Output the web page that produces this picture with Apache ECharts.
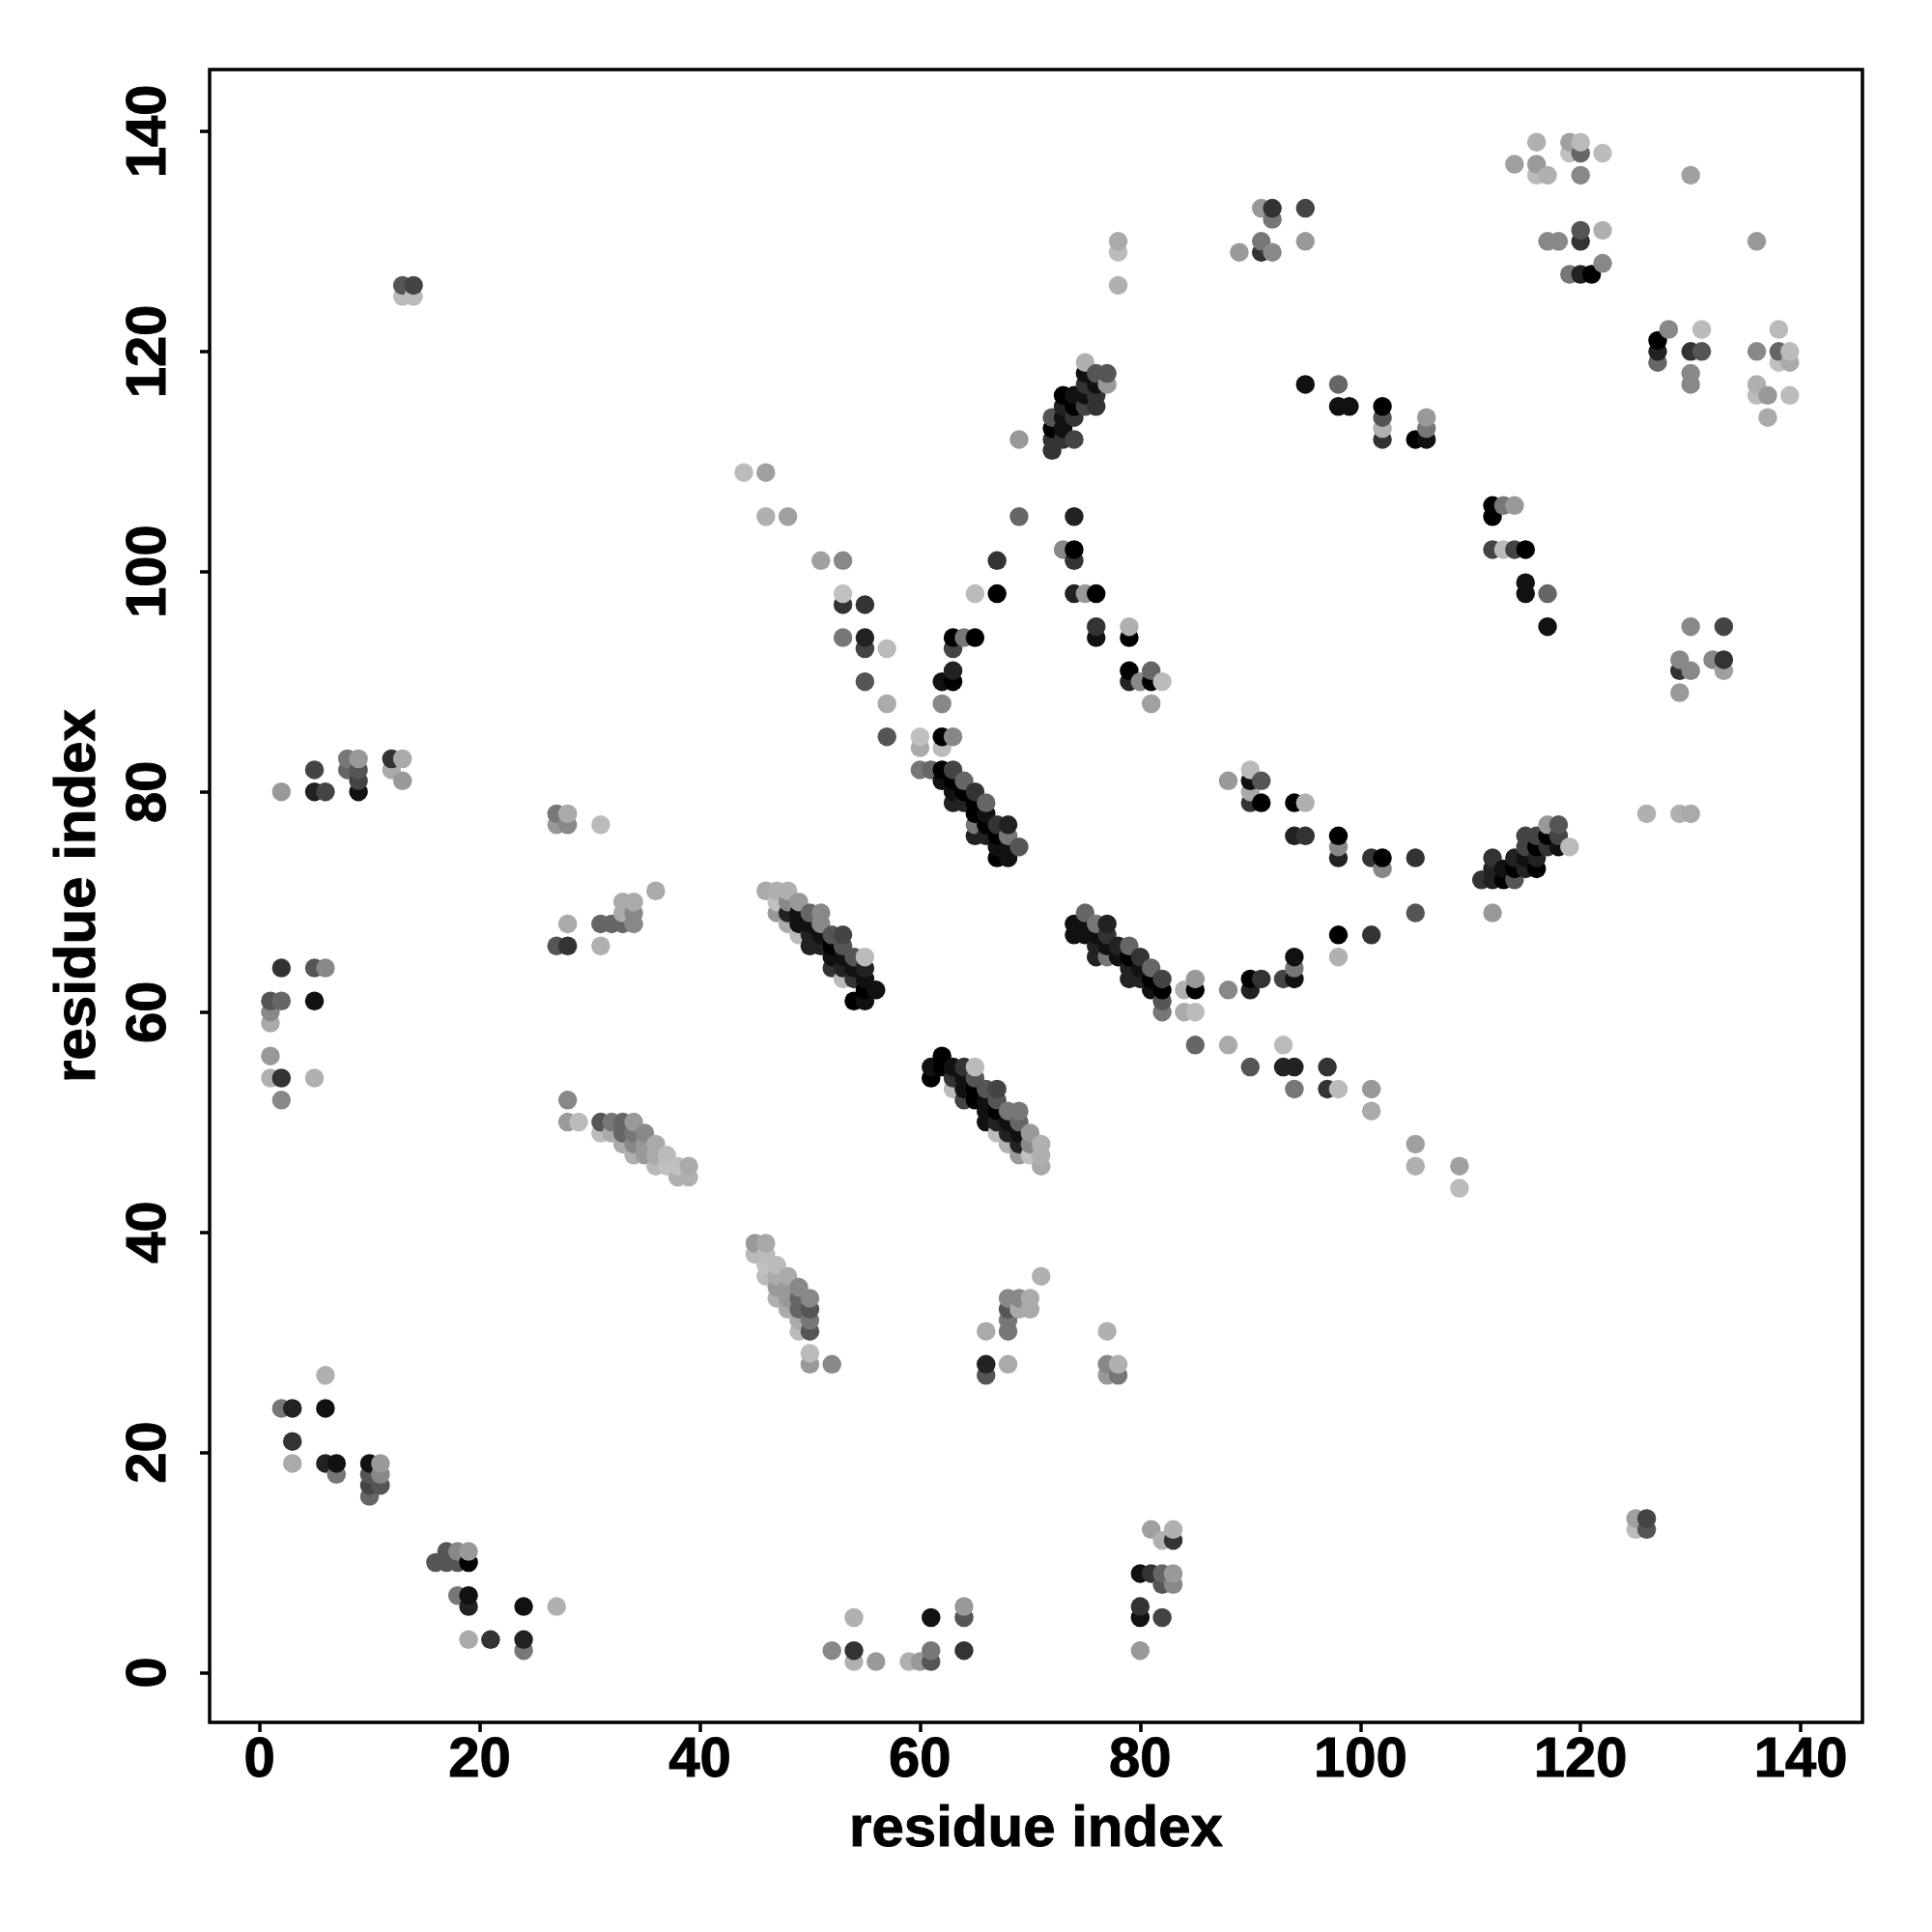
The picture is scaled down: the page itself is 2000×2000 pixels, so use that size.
<!DOCTYPE html>
<html>
<head>
<meta charset="utf-8">
<style>html,body{margin:0;padding:0;background:#fff}#c{width:2000px;height:2000px}</style>
<script src="https://cdn.jsdelivr.net/npm/echarts@6/dist/echarts.min.js"></script>
</head>
<body>
<div id="c"></div>
<script>
// [residue i, residue j, grey level]
const tickValues = [0, 20, 40, 60, 80, 100, 120, 140];
const axisTitle = "residue index";

const leftTop = [[13,126,0x55],[14,126,0x44],[13,125,0xbb],[14,125,0xbb]];
const leftUpper = [[2,80,0x99],[5,80,0x22],[6,80,0x44],[5,82,0x44],[8,83,0x77],[9,83,0x99],[8,82,0x66],[9,82,0x55],[9,81,0x44],[9,80,0x11],[12,83,0x33],[13,83,0xaa],[12,82,0xaa],[13,81,0x99]];
const leftMiddle = [[2,64,0x33],[5,64,0x55],[6,64,0x88],[1,61,0x55],[2,61,0x66],[5,61,0x11],[1,60,0x88],[1,59,0xaa],[1,56,0x99],[1,54,0xb0],[2,54,0x33],[5,54,0xb0],[2,52,0x88]];
const leftLower = [[6,27,0xb0],[2,24,0x77],[3,24,0x22],[6,24,0x11],[3,21,0x33],[3,19,0xaa],[6,19,0x22],[7,19,0x11],[7,18,0x77],[10,19,0x11],[11,19,0x99],[10,18,0x55],[11,18,0x88],[10,17,0x44],[11,17,0x55],[10,16,0x66]];
const leftBottom = [[16,10,0x55],[17,11,0x55],[17,10,0x55],[18,11,0x88],[18,10,0x55],[19,11,0x99],[19,10,0x00],[18,7,0x77],[19,7,0x11],[19,6,0x22],[24,6,0x11],[27,6,0xb0],[19,3,0xaa],[21,3,0x33],[24,3,0x22],[24,2,0x77]];
const group27 = [[27,78,0x77],[28,78,0xaa],[27,77,0x99],[28,77,0x88],[31,77,0xbb],[36,71,0xaa],[33,70,0xaa],[34,70,0xaa],[33,69,0xaa],[34,69,0x88],[31,68,0x66],[32,68,0x66],[33,68,0x66],[34,68,0x88],[28,68,0xaa],[27,66,0x55],[28,66,0x33],[31,66,0xb0]];
const sheetA = [[28,52,0x88],[28,50,0x99],[29,50,0xbb],[31,50,0x55],[32,50,0x77],[33,50,0x66],[34,50,0x99],[31,49,0xbb],[32,49,0xaa],[33,49,0x66],[34,49,0x77],[35,49,0x88],[33,48,0xaa],[34,48,0x88],[35,48,0x99],[36,48,0xaa],[34,47,0xb0],[35,47,0x99],[36,47,0xaa],[37,47,0xbb],[36,46,0xb8],[37,46,0xc0],[38,46,0xc0],[39,46,0xaa],[38,45,0xb0],[39,45,0xb0]];
const sheetB = [[45,39,0x99],[46,39,0xa8],[45,38,0xb8],[46,38,0xbb],[46,37,0xc0],[47,37,0xbb],[46,36,0xbb],[47,36,0xaa],[48,36,0xaa],[47,35,0x99],[48,35,0x99],[49,35,0x88],[47,34,0xb0],[48,34,0x99],[49,34,0x66],[50,34,0x88],[48,33,0xaa],[49,33,0x66],[50,33,0x55],[49,32,0xaa],[50,32,0x77],[49,31,0xbb],[50,31,0x55],[50,29,0xbb],[50,28,0x99],[52,28,0x88]];
const bottomMiddle = [[52,2,0x88],[54,5,0xb0],[54,2,0x33],[54,1,0xb0],[56,1,0x99],[59,1,0xb0],[60,1,0x99],[61,1,0x55],[61,2,0x77],[61,5,0x11],[64,6,0x99],[64,5,0x55],[64,2,0x33]];
const group66 = [[66,28,0x22],[66,27,0x55],[68,28,0xaa],[66,31,0xaa],[68,31,0x77],[68,32,0x77],[68,33,0x55],[68,34,0x88],[69,34,0x88],[69,33,0xaa],[70,34,0xaa],[70,33,0xaa],[71,36,0xb0],[77,31,0xb0],[77,28,0x88],[78,28,0xb0],[77,27,0x99],[78,27,0x77]];
const group80 = [[81,13,0xa0],[82,12,0xb0],[83,13,0xb0],[83,12,0x33],[80,9,0x11],[81,9,0x33],[82,9,0x66],[83,9,0x99],[82,8,0x55],[83,8,0x88],[80,6,0x33],[80,5,0x11],[82,5,0x44],[80,2,0x99],[125,14,0xa0],[126,14,0x44],[125,13,0xbb],[126,13,0x55]];
const curveUp = [[44,109,0xbb],[46,109,0xa0],[46,105,0xb0],[48,105,0xa0],[51,101,0xa0],[53,101,0x88],[53,98,0xc0],[53,97,0x33],[55,97,0x33],[53,94,0x77],[55,94,0x22],[55,93,0x44],[57,93,0xbb],[55,90,0x55],[57,88,0xaa],[57,85,0x55],[60,85,0xc0],[60,84,0xaa],[62,85,0x00],[62,84,0xbb],[63,85,0x88],[62,88,0x88],[62,90,0x11],[63,90,0x00],[63,91,0x22],[63,93,0x44],[63,94,0x00],[64,94,0x77],[65,94,0x00],[65,98,0xbb],[67,98,0x00],[67,101,0x33],[69,105,0x66],[69,112,0x99]];
const diagMain = [[46,71,0xaa],[47,71,0xb0],[48,71,0xb0],[47,70,0xc0],[48,70,0x88],[49,70,0x99],[47,69,0x99],[48,69,0x22],[49,69,0x11],[50,69,0x66],[51,69,0x88],[51,68,0x88],[48,68,0xaa],[49,68,0x11],[50,68,0x11],[49,67,0xbb],[50,67,0x22],[51,67,0x11],[52,67,0x55],[53,67,0x44],[53,66,0x55],[50,66,0x22],[51,66,0x22],[52,66,0x00],[52,65,0x11],[53,65,0x11],[54,65,0x55],[55,65,0xbb],[52,64,0x33],[53,64,0x22],[54,64,0x11],[55,64,0x22],[53,63,0xbb],[54,63,0x33],[55,63,0x11],[55,62,0x00],[56,62,0x11],[54,61,0x00],[55,61,0x11]];
const diagUpper = [[60,82,0x77],[61,82,0x66],[62,82,0x00],[63,82,0x44],[62,81,0x11],[63,81,0x00],[64,81,0x66],[63,80,0x11],[64,80,0x00],[65,80,0x33],[63,79,0x22],[64,79,0x22],[65,79,0x00],[66,79,0x66],[65,78,0x00],[66,78,0x11],[65,77,0x77],[66,77,0x00],[67,77,0x33],[68,77,0x22],[65,76,0x22],[66,76,0x22],[67,76,0x00],[68,76,0x77],[67,75,0x11],[68,75,0x11],[69,75,0x55],[67,74,0x00],[68,74,0x11]];
const diagLower = [[62,56,0x00],[61,55,0x11],[62,55,0x00],[63,55,0x11],[64,55,0x33],[65,55,0xbb],[61,54,0x00],[63,54,0x33],[64,54,0x11],[65,54,0x55],[63,53,0xbb],[64,53,0x11],[65,53,0x00],[66,53,0x55],[67,53,0x44],[64,52,0x44],[65,52,0x00],[66,52,0x11],[67,52,0x55],[66,51,0x11],[67,51,0x00],[68,51,0x77],[69,51,0x77],[66,50,0x11],[67,50,0x22],[68,50,0x11],[69,50,0x66],[67,49,0xbb],[68,49,0x22],[69,49,0x11],[70,49,0x99],[68,48,0xb0],[69,48,0x22],[70,48,0x88],[71,48,0xb0],[69,47,0x99],[70,47,0xc0],[71,47,0xb0],[71,46,0xaa]];
const diagCentre = [[75,69,0x66],[74,68,0x11],[75,68,0x11],[76,68,0x77],[77,68,0x22],[74,67,0x11],[75,67,0x11],[76,67,0x11],[77,67,0x33],[76,66,0x22],[77,66,0x11],[78,66,0x22],[79,66,0x66],[76,65,0x22],[77,65,0x77],[78,65,0x11],[79,65,0x00],[80,65,0x33],[79,64,0x22],[80,64,0x11],[81,64,0x66],[79,63,0x22],[80,63,0x22],[81,63,0x00],[82,63,0x44],[81,62,0x11],[82,62,0x00],[82,61,0x55],[82,60,0x77],[84,62,0xb0],[85,63,0x99],[85,62,0x00],[84,60,0xaa],[85,60,0xbb],[88,62,0x88],[90,62,0x22],[90,63,0x00],[91,63,0x33],[93,63,0x44],[94,63,0x11],[94,64,0x77],[94,65,0x11],[98,65,0xb0],[98,67,0x00],[101,67,0x33],[105,69,0x55],[112,69,0x99]];
const tailLower = [[85,57,0x66],[88,57,0xaa],[93,57,0xbb],[90,55,0x55],[93,55,0x22],[94,55,0x22],[97,55,0x33],[94,53,0x77],[97,53,0x33],[98,53,0xbb],[101,53,0x99],[101,51,0xaa],[105,48,0xa0],[105,46,0xb0],[109,46,0xa0],[109,44,0xbb]];
const arcRight = [[88,81,0x99],[90,82,0xbb],[90,81,0x11],[91,81,0x55],[90,80,0xaa],[90,79,0x33],[91,79,0x00],[94,79,0x00],[95,79,0xb0],[94,76,0x22],[95,76,0x33],[98,76,0x00],[98,75,0x88],[98,74,0x22],[101,74,0x33],[102,74,0x00],[102,73,0x88],[105,74,0x33]];
const diagRight = [[111,72,0x33],[112,74,0x33],[112,73,0x22],[112,72,0x22],[113,73,0x11],[113,72,0x00],[114,72,0x55],[114,74,0x22],[114,73,0x00],[115,76,0x44],[115,75,0x44],[115,74,0x11],[115,73,0x22],[116,76,0x44],[116,75,0x00],[116,74,0x22],[116,73,0x00],[117,77,0x99],[117,76,0x00],[117,75,0x33],[118,77,0x55],[118,76,0x44],[118,75,0x11],[119,75,0xbb],[126,78,0xb0],[129,78,0xb0],[130,78,0xaa]];
const centreUpper = [[74,105,0x22],[73,102,0x88],[74,102,0x00],[74,101,0x33],[74,98,0x22],[75,98,0x99],[76,98,0x00],[76,95,0x33],[76,94,0x11],[79,95,0xb0],[79,94,0x00],[79,91,0x00],[79,90,0x22],[80,90,0x88],[81,90,0x00],[81,91,0x66],[82,90,0xbb],[81,88,0xa0]];
const diagTop = [[75,119,0xb0],[75,118,0x11],[76,118,0x55],[77,118,0x55],[76,117,0x11],[77,117,0x99],[75,117,0x33],[73,116,0x00],[74,116,0x11],[75,116,0x11],[76,116,0x33],[73,115,0x22],[74,115,0x00],[75,115,0x44],[76,115,0x33],[72,114,0x55],[73,114,0x11],[74,114,0x33],[72,113,0x00],[73,113,0x11],[72,112,0x33],[73,112,0x33],[74,112,0x44],[72,111,0x33]];
const topMiddle = [[78,130,0xaa],[78,129,0xbb],[78,126,0xb0],[91,133,0x99],[92,133,0x33],[92,132,0x77],[95,133,0x44],[95,130,0x99],[89,129,0x99],[91,130,0x77],[91,129,0x33],[92,129,0x88]];
const topRight = [[116,139,0xb0],[119,139,0xa0],[120,139,0xbb],[119,138,0xc0],[120,138,0x66],[122,138,0xbb],[114,137,0xa0],[116,137,0x99],[116,136,0xbb],[117,136,0xb0],[120,136,0x88],[130,136,0xa0],[120,131,0x55],[122,131,0xb0],[120,130,0x33],[117,130,0x88],[118,130,0x88],[136,130,0x99],[122,128,0x88],[119,127,0x77],[120,127,0x22],[121,127,0x00]];
const farRight = [[128,122,0x88],[131,122,0xbb],[138,122,0xbb],[127,121,0x00],[127,120,0x22],[127,119,0x66],[130,120,0x33],[131,120,0x55],[136,120,0x88],[138,120,0x66],[139,120,0xbb],[138,119,0xc0],[139,119,0xaa],[130,118,0x88],[130,117,0x88],[136,117,0xb0],[136,116,0xbb],[137,116,0x99],[139,116,0xbb],[137,114,0xaa]];
const arcTop = [[95,117,0x11],[98,117,0x66],[98,115,0x11],[99,115,0x11],[102,115,0x00],[102,114,0x55],[102,113,0xb0],[102,112,0x33],[105,112,0x00],[106,112,0x11],[106,114,0x99],[106,113,0x77]];
const arcEast = [[112,106,0x00],[113,106,0x77],[114,106,0x99],[112,105,0x00],[112,102,0x44],[113,102,0xbb],[114,102,0x44],[115,102,0x00],[115,99,0x11],[115,98,0x11],[117,98,0x66],[117,95,0x11]];
const group130 = [[130,95,0x88],[133,95,0x44],[129,92,0x88],[129,91,0x33],[130,91,0x88],[129,89,0x99],[132,92,0x88],[133,92,0x33],[133,91,0xa0]];

const contacts = [leftTop,leftUpper,leftMiddle,leftLower,leftBottom,group27,sheetA,sheetB,bottomMiddle,group66,group80,curveUp,diagMain,diagUpper,diagLower,diagCentre,tailLower,arcRight,diagRight,centreUpper,diagTop,topMiddle,topRight,farRight,arcTop,arcEast,group130]
  .flat()
  .sort((a, b) => a[0] - b[0] || a[1] - b[1]);

const font = '"Liberation Sans", Arial, Helvetica, sans-serif';
const boldText = { fontFamily: font, fontWeight: 'bold', color: '#000', textBorderColor: '#000', textBorderWidth: 1 };
const axisCommon = {
  type: 'value',
  min: -4.52,
  max: 145.6,
  nameLocation: 'middle',
  name: axisTitle,
  nameTextStyle: Object.assign({ fontSize: 60 }, boldText),
  splitLine: { show: false },
  axisLine: { show: false, onZero: false },
  axisTick: { show: true, length: 10, inside: false, lineStyle: { color: '#000', width: 3.5 }, customValues: tickValues },
  axisLabel: Object.assign({ show: true, fontSize: 58, customValues: tickValues, formatter: v => String(v) }, boldText)
};

const chart = echarts.init(document.getElementById('c'), null, { renderer: 'canvas', width: 2000, height: 2000 });
chart.setOption({
  animation: false,
  backgroundColor: '#fff',
  grid: { show: true, left: 217, top: 72, width: 1711, height: 1711, borderColor: '#000', borderWidth: 3.5, backgroundColor: 'transparent', containLabel: false },
  xAxis: Object.assign({}, axisCommon, {
    nameGap: 81,
    axisLabel: Object.assign({}, axisCommon.axisLabel, { margin: 11 })
  }),
  yAxis: Object.assign({}, axisCommon, {
    nameGap: 106,
    axisLabel: Object.assign({}, axisCommon.axisLabel, { rotate: 90, margin: 33 })
  }),
  series: [{
    type: 'scatter',
    data: contacts,
    symbol: 'circle',
    symbolSize: 19.5,
    large: false,
    progressive: 0,
    itemStyle: {
      opacity: 1,
      color: p => { const g = p.value[2]; return `rgb(${g},${g},${g})`; }
    }
  }]
});
</script>
</body>
</html>
